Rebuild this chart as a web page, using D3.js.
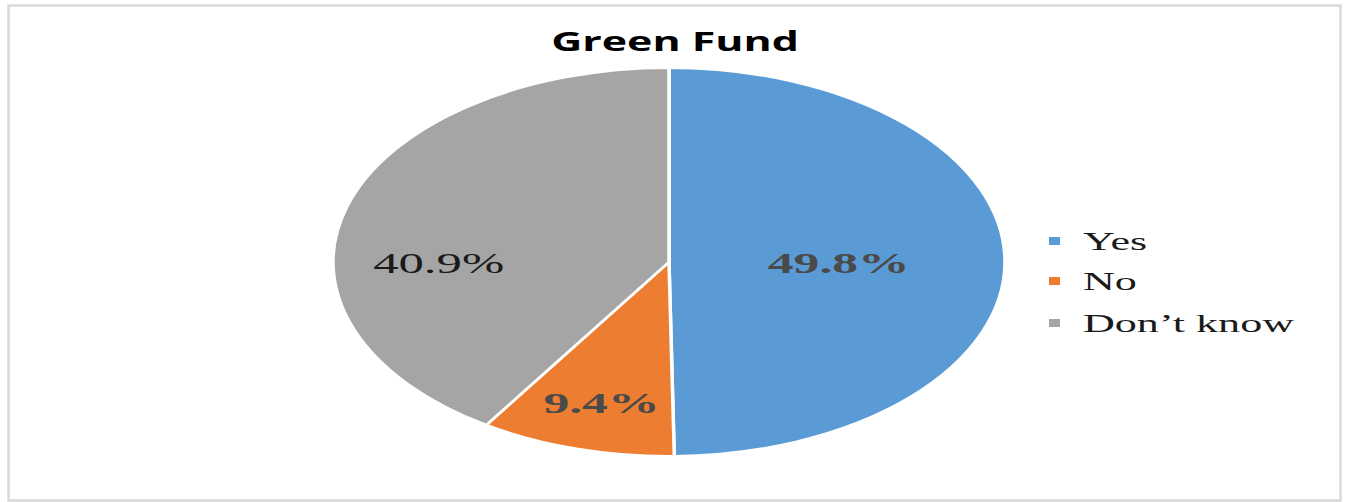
<!DOCTYPE html>
<html><head><meta charset="utf-8">
<script src="https://cdn.jsdelivr.net/npm/d3@7"></script>
<style>body{margin:0;background:#fff}svg{display:block}</style>
</head><body>
<script>
const categories = ["Yes", "No", "Don’t know"];
const values = [49.8, 9.4, 40.9];
const labels = ["49.8%", "9.4%", "40.9%"];
const colors = ["#5b9bd5", "#ed7d31", "#a5a5a5"];
const title = "Green Fund";

const W = 1348, H = 502;
const svg = d3.select("body").append("svg").attr("width", W).attr("height", H);

svg.append("rect").attr("x", 8.5).attr("y", 5.5).attr("width", 1332).attr("height", 495)
  .attr("fill", "#fff").attr("stroke", "#d9d9d9").attr("stroke-width", 2.5);

const cx = 669, cy = 262, ry = 194, sx = 336 / 194;

svg.append("text").attr("transform", `translate(675,51) scale(1.62,1)`)
  .attr("text-anchor", "middle").attr("font-family", "Open Sans, sans-serif")
  .attr("font-weight", "bold").attr("font-size", 26.5).attr("fill", "#000").text(title);

const pie = d3.pie().sort(null).value(d => d)(values);
const arc = d3.arc().innerRadius(0).outerRadius(ry);
const g = svg.append("g").attr("transform", `translate(${cx},${cy}) scale(${sx},1)`);
g.selectAll("path").data(pie).join("path")
  .attr("d", arc).attr("fill", (d, i) => colors[i])
  .attr("stroke", "#fff").attr("stroke-width", 2);

// label anchor points (in unscaled pie coords)
const labPos = [[98, 0], [-39, 140], [-133, 0]];
const labStyle = [
  {fill: "#4a4a4a", weight: "bold", size: 30},
  {fill: "#4a4a4a", weight: "bold", size: 30},
  {fill: "#1a1a1a", weight: "normal", size: 29.5}
];
pie.forEach((d, i) => {
  const [x, y] = labPos[i];
  svg.append("text")
    .attr("transform", `translate(${cx + x * sx},${cy + y + 11}) scale(1.72,1)`)
    .attr("text-anchor", "middle").attr("font-family", "Liberation Serif, serif")
    .attr("font-size", labStyle[i].size).attr("font-weight", labStyle[i].weight)
    .attr("fill", labStyle[i].fill).text(labels[i]);
});

const legY = [241, 281, 323];
const leg = svg.append("g");
categories.forEach((c, i) => {
  leg.append("rect").attr("x", 1049).attr("y", legY[i] - 4).attr("width", 11).attr("height", 8).attr("fill", colors[i]);
  leg.append("text").attr("transform", `translate(1083,${legY[i] + 9}) scale(1.8,1)`)
    .attr("font-family", "Liberation Serif, serif").attr("font-size", 24.5).attr("fill", "#1a1a1a").text(c);
});
</script>
</body></html>
